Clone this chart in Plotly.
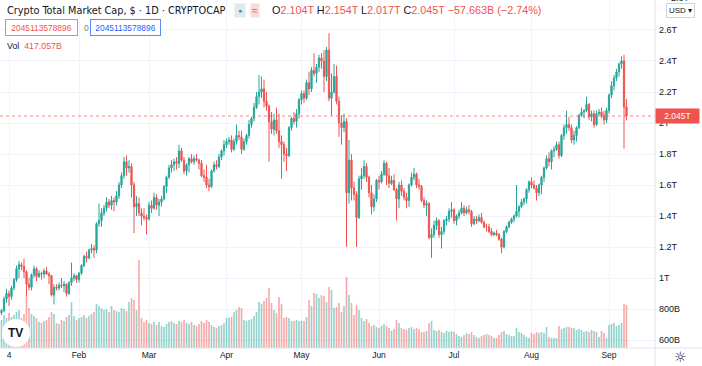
import pandas as pd
import plotly.graph_objects as go

# ---------------- data (daily, 2021-01-01 .. 2021-09-08), values in T USD ----------------
start_date = "2021-01-01"

open_ = [
    0.775, 0.790, 0.865, 0.900, 0.880, 0.935, 0.990, 1.060, 1.085, 1.075, 1.040, 0.960, 0.940, 1.020, 1.060, 1.010, 1.030, 1.025, 1.045, 1.025, 1.015, 0.890, 0.940, 0.935, 0.955, 0.950, 0.960, 0.900, 0.970, 1.000, 1.015,
    0.990, 1.030, 1.080, 1.140, 1.130, 1.180, 1.190, 1.180, 1.350, 1.370, 1.420, 1.450, 1.490, 1.470, 1.500, 1.490, 1.530, 1.600, 1.660, 1.750, 1.710, 1.720, 1.600, 1.460, 1.480, 1.420, 1.400, 1.390,
    1.380, 1.470, 1.450, 1.520, 1.470, 1.490, 1.510, 1.590, 1.650, 1.710, 1.730, 1.750, 1.740, 1.820, 1.760, 1.690, 1.730, 1.770, 1.750, 1.770, 1.760, 1.740, 1.660, 1.650, 1.600, 1.590, 1.690, 1.730, 1.720, 1.780, 1.820,
    1.860, 1.880, 1.890, 1.830, 1.880, 1.920, 1.910, 1.830, 1.880, 1.920, 1.990, 2.030, 2.100, 2.170, 2.200, 2.220, 2.140, 2.110, 2.010, 1.960, 2.020, 1.950, 1.880, 1.860, 1.800, 1.790, 1.970, 2.030, 2.010, 2.060,
    2.150, 2.190, 2.160, 2.260, 2.220, 2.340, 2.320, 2.360, 2.420, 2.400, 2.300, 2.470, 2.160, 2.200, 2.300, 2.140, 2.000, 1.970, 2.010, 1.550, 1.760, 1.580, 1.540, 1.390, 1.640, 1.660, 1.720, 1.650, 1.550, 1.460, 1.510,
    1.630, 1.620, 1.670, 1.740, 1.660, 1.610, 1.630, 1.570, 1.510, 1.600, 1.560, 1.520, 1.500, 1.600, 1.650, 1.670, 1.600, 1.590, 1.500, 1.470, 1.480, 1.260, 1.280, 1.340, 1.370, 1.280, 1.300, 1.370, 1.380, 1.430,
    1.440, 1.370, 1.400, 1.420, 1.450, 1.420, 1.440, 1.430, 1.350, 1.380, 1.370, 1.390, 1.360, 1.330, 1.330, 1.300, 1.280, 1.290, 1.280, 1.250, 1.200, 1.300, 1.330, 1.360, 1.380, 1.400, 1.430, 1.460, 1.490, 1.510, 1.570,
    1.620, 1.600, 1.580, 1.550, 1.600, 1.650, 1.710, 1.770, 1.750, 1.820, 1.830, 1.860, 1.790, 1.920, 1.970, 1.990, 1.970, 1.890, 1.920, 1.970, 2.050, 2.070, 2.080, 2.120, 2.040, 2.060, 1.990, 2.060, 2.070, 2.050, 2.020,
    2.080, 2.180, 2.240, 2.290, 2.330, 2.380, 2.400, 2.104,
]

high = [
    0.800, 0.880, 0.930, 0.920, 0.950, 1.000, 1.080, 1.110, 1.100, 1.125, 1.050, 1.000, 1.030, 1.080, 1.070, 1.050, 1.040, 1.060, 1.070, 1.040, 1.020, 0.960, 0.960, 0.970, 1.000, 0.980, 0.965, 0.980, 1.100, 1.030, 1.020,
    1.040, 1.090, 1.150, 1.170, 1.190, 1.220, 1.210, 1.360, 1.480, 1.450, 1.470, 1.520, 1.510, 1.530, 1.520, 1.560, 1.620, 1.680, 1.780, 1.790, 1.760, 1.740, 1.620, 1.530, 1.520, 1.450, 1.450, 1.410,
    1.490, 1.500, 1.550, 1.540, 1.510, 1.530, 1.600, 1.660, 1.730, 1.760, 1.770, 1.780, 1.860, 1.840, 1.780, 1.740, 1.780, 1.800, 1.790, 1.800, 1.770, 1.760, 1.700, 1.730, 1.640, 1.700, 1.750, 1.760, 1.800, 1.830, 1.890,
    1.900, 1.910, 1.920, 1.900, 1.990, 1.950, 1.950, 1.900, 1.930, 2.020, 2.040, 2.130, 2.200, 2.310, 2.300, 2.280, 2.200, 2.120, 2.070, 2.060, 2.100, 2.060, 1.920, 1.880, 1.840, 1.980, 2.040, 2.070, 2.090, 2.160,
    2.210, 2.210, 2.280, 2.330, 2.360, 2.450, 2.380, 2.440, 2.450, 2.470, 2.490, 2.580, 2.320, 2.380, 2.370, 2.170, 2.050, 2.060, 2.030, 1.890, 1.800, 1.620, 1.560, 1.660, 1.710, 1.760, 1.740, 1.660, 1.600, 1.540, 1.640,
    1.660, 1.690, 1.760, 1.750, 1.710, 1.660, 1.670, 1.580, 1.620, 1.630, 1.580, 1.550, 1.610, 1.680, 1.710, 1.680, 1.640, 1.600, 1.520, 1.500, 1.490, 1.320, 1.370, 1.390, 1.380, 1.330, 1.380, 1.400, 1.450, 1.490,
    1.450, 1.410, 1.440, 1.490, 1.470, 1.460, 1.470, 1.440, 1.400, 1.400, 1.410, 1.420, 1.370, 1.350, 1.350, 1.320, 1.300, 1.310, 1.290, 1.260, 1.310, 1.340, 1.370, 1.390, 1.410, 1.600, 1.470, 1.510, 1.520, 1.580, 1.630,
    1.650, 1.630, 1.600, 1.610, 1.660, 1.720, 1.790, 1.810, 1.830, 1.850, 1.880, 1.880, 1.930, 1.990, 2.080, 2.040, 1.990, 1.950, 1.980, 2.060, 2.100, 2.090, 2.170, 2.130, 2.080, 2.080, 2.080, 2.090, 2.100, 2.080, 2.100,
    2.190, 2.270, 2.310, 2.350, 2.390, 2.430, 2.440, 2.154,
]

low = [
    0.760, 0.780, 0.840, 0.820, 0.860, 0.920, 0.975, 1.000, 1.050, 1.000, 0.880, 0.920, 0.920, 1.000, 0.980, 1.000, 0.990, 1.000, 1.020, 0.960, 0.880, 0.830, 0.920, 0.920, 0.935, 0.910, 0.880, 0.890, 0.950, 0.980, 0.970,
    0.970, 1.020, 1.070, 1.100, 1.120, 1.160, 1.130, 1.160, 1.330, 1.330, 1.400, 1.430, 1.450, 1.440, 1.430, 1.470, 1.510, 1.580, 1.640, 1.660, 1.680, 1.520, 1.290, 1.400, 1.400, 1.340, 1.370, 1.280,
    1.370, 1.420, 1.440, 1.440, 1.400, 1.460, 1.500, 1.550, 1.640, 1.680, 1.690, 1.700, 1.710, 1.750, 1.670, 1.660, 1.680, 1.740, 1.730, 1.750, 1.700, 1.650, 1.620, 1.580, 1.560, 1.580, 1.680, 1.700, 1.710, 1.760, 1.790,
    1.840, 1.860, 1.810, 1.820, 1.860, 1.890, 1.800, 1.820, 1.860, 1.900, 1.970, 2.010, 2.090, 2.120, 2.160, 2.100, 2.080, 1.750, 1.930, 1.920, 1.930, 1.840, 1.640, 1.750, 1.690, 1.780, 1.950, 1.990, 1.970, 2.030,
    2.120, 2.130, 2.150, 2.180, 2.200, 2.300, 2.260, 2.330, 2.350, 2.200, 2.270, 2.140, 2.050, 2.190, 2.120, 1.910, 1.860, 1.940, 1.200, 1.480, 1.500, 1.500, 1.200, 1.380, 1.570, 1.640, 1.620, 1.520, 1.410, 1.430, 1.490,
    1.570, 1.610, 1.660, 1.600, 1.580, 1.600, 1.560, 1.370, 1.450, 1.530, 1.500, 1.450, 1.460, 1.590, 1.630, 1.580, 1.570, 1.490, 1.450, 1.400, 1.250, 1.130, 1.260, 1.310, 1.260, 1.190, 1.280, 1.340, 1.360, 1.390,
    1.350, 1.340, 1.380, 1.410, 1.400, 1.410, 1.410, 1.330, 1.340, 1.350, 1.360, 1.350, 1.320, 1.300, 1.290, 1.270, 1.270, 1.270, 1.240, 1.160, 1.190, 1.290, 1.320, 1.350, 1.360, 1.390, 1.390, 1.450, 1.470, 1.480, 1.550,
    1.580, 1.570, 1.500, 1.530, 1.540, 1.620, 1.700, 1.720, 1.700, 1.780, 1.820, 1.770, 1.780, 1.890, 1.930, 1.950, 1.870, 1.860, 1.880, 1.960, 2.040, 2.030, 2.070, 2.020, 2.010, 1.970, 1.980, 2.040, 2.030, 1.990, 2.000,
    2.060, 2.160, 2.210, 2.270, 2.300, 2.350, 1.835, 2.017,
]

close = [
    0.790, 0.865, 0.900, 0.880, 0.935, 0.990, 1.060, 1.085, 1.075, 1.040, 0.960, 0.940, 1.020, 1.060, 1.010, 1.030, 1.025, 1.045, 1.025, 1.015, 0.890, 0.940, 0.935, 0.955, 0.950, 0.960, 0.900, 0.970, 1.000, 1.015, 0.990,
    1.030, 1.080, 1.140, 1.130, 1.180, 1.190, 1.180, 1.350, 1.370, 1.420, 1.450, 1.490, 1.470, 1.500, 1.490, 1.530, 1.600, 1.660, 1.750, 1.710, 1.720, 1.600, 1.460, 1.480, 1.420, 1.400, 1.390, 1.380,
    1.470, 1.450, 1.520, 1.470, 1.490, 1.510, 1.590, 1.650, 1.710, 1.730, 1.750, 1.740, 1.820, 1.760, 1.690, 1.730, 1.770, 1.750, 1.770, 1.760, 1.740, 1.660, 1.650, 1.600, 1.590, 1.690, 1.730, 1.720, 1.780, 1.820, 1.860,
    1.880, 1.890, 1.830, 1.880, 1.920, 1.910, 1.830, 1.880, 1.920, 1.990, 2.030, 2.100, 2.170, 2.200, 2.220, 2.140, 2.110, 2.010, 1.960, 2.020, 1.950, 1.880, 1.860, 1.800, 1.790, 1.970, 2.030, 2.010, 2.060, 2.150,
    2.190, 2.160, 2.260, 2.220, 2.340, 2.320, 2.360, 2.420, 2.400, 2.300, 2.470, 2.160, 2.200, 2.300, 2.140, 2.000, 1.970, 2.010, 1.550, 1.760, 1.580, 1.540, 1.390, 1.640, 1.660, 1.720, 1.650, 1.550, 1.460, 1.510, 1.630,
    1.620, 1.670, 1.740, 1.660, 1.610, 1.630, 1.570, 1.510, 1.600, 1.560, 1.520, 1.500, 1.600, 1.650, 1.670, 1.600, 1.590, 1.500, 1.470, 1.480, 1.260, 1.280, 1.340, 1.370, 1.280, 1.300, 1.370, 1.380, 1.430, 1.440,
    1.370, 1.400, 1.420, 1.450, 1.420, 1.440, 1.430, 1.350, 1.380, 1.370, 1.390, 1.360, 1.330, 1.330, 1.300, 1.280, 1.290, 1.280, 1.250, 1.200, 1.300, 1.330, 1.360, 1.380, 1.400, 1.430, 1.460, 1.490, 1.510, 1.570, 1.620,
    1.600, 1.580, 1.550, 1.600, 1.650, 1.710, 1.770, 1.750, 1.820, 1.830, 1.860, 1.790, 1.920, 1.970, 1.990, 1.970, 1.890, 1.920, 1.970, 2.050, 2.070, 2.080, 2.120, 2.040, 2.060, 1.990, 2.060, 2.070, 2.050, 2.020, 2.080,
    2.180, 2.240, 2.290, 2.330, 2.380, 2.400, 2.102777, 2.045113578896,
]

# volume in billions USD
volume = [
    272, 320, 291, 340, 301, 320, 349, 369, 291, 330, 504, 388, 330, 310, 291, 252, 243, 262, 272, 301, 349, 330, 243, 233, 272, 262, 301, 320, 446, 310, 272,
    291, 301, 320, 291, 310, 330, 349, 427, 407, 388, 369, 378, 349, 407, 369, 359, 349, 388, 378, 359, 446, 485, 466, 369, 854, 291, 252, 272,
    243, 233, 252, 223, 252, 213, 204, 233, 252, 262, 243, 233, 262, 252, 272, 243, 233, 252, 223, 213, 233, 262, 243, 272, 252, 223, 204, 194, 213, 223, 243,
    291, 291, 301, 349, 369, 398, 388, 272, 262, 272, 281, 310, 349, 446, 427, 456, 485, 582, 437, 369, 340, 495, 427, 291, 301, 291, 262, 262, 272, 262,
    262, 262, 301, 466, 407, 534, 524, 485, 514, 504, 446, 592, 563, 388, 398, 437, 349, 407, 689, 514, 437, 320, 417, 369, 291, 262, 281, 243, 213, 223, 204,
    194, 213, 233, 213, 194, 165, 184, 272, 243, 194, 184, 175, 194, 204, 184, 194, 184, 155, 155, 165, 243, 262, 175, 165, 175, 155, 146, 165, 155, 165,
    155, 136, 116, 107, 126, 146, 136, 155, 126, 107, 97, 116, 126, 136, 126, 116, 97, 97, 126, 155, 165, 136, 126, 116, 116, 194, 155, 146, 126, 107, 97,
    146, 136, 155, 146, 155, 146, 204, 107, 97, 97, 97, 213, 184, 194, 204, 204, 194, 194, 175, 184, 175, 155, 165, 155, 175, 165, 155, 107, 165, 146, 97,
    223, 233, 243, 213, 223, 243, 427, 417.057,
]

month_ticks = ["2021-01-04", "2021-02-01", "2021-03-01", "2021-04-01", "2021-05-01",
               "2021-06-01", "2021-07-01", "2021-08-01", "2021-09-01"]
month_labels = ["4", "Feb", "Mar", "Apr", "May", "Jun", "Jul", "Aug", "Sep"]

price_ticks = [0.6, 0.8, 1.0, 1.2, 1.4, 1.6, 1.8, 2.0, 2.2, 2.4, 2.6, 2.8]
price_labels = ["600B", "800B", "1T", "1.2T", "1.4T", "1.6T", "1.8T", "2T", "2.2T", "2.4T", "2.6T", "2.8T"]

assert len(open_) == len(high) == len(low) == len(close) == len(volume)

# ---------------- styling ----------------
W, H = 702, 366
MR, MB = 47, 18
PW, PH = W - MR, H - MB
UP, DOWN = "#26a69a", "#ef5350"
TXT = "#131722"
GRID = "#f0f3fa"
NARROW = "Liberation Sans Narrow, DejaVu Sans Condensed, Liberation Sans, sans-serif"
REG = "Liberation Sans, Arial, sans-serif"


def px(x):
    return x / PW


def py(y):
    return 1 - y / PH


dates = pd.date_range(start_date, periods=len(close), freq="D")
vol_colors = ["rgba(38,166,154,0.5)" if c >= o else "rgba(239,83,80,0.5)" for o, c in zip(open_, close)]

fig = go.Figure()
fig.add_trace(go.Candlestick(
    x=dates, open=open_, high=high, low=low, close=close, yaxis="y",
    increasing=dict(line=dict(color=UP, width=1), fillcolor=UP),
    decreasing=dict(line=dict(color=DOWN, width=1), fillcolor=DOWN),
    whiskerwidth=0, hoverinfo="skip",
))
fig.add_trace(go.Bar(
    x=dates, y=volume, yaxis="y2", marker=dict(color=vol_colors, line=dict(width=0)),
    hoverinfo="skip",
))

last_o, last_h, last_l, last_c = open_[-1], high[-1], low[-1], close[-1]
chg = (last_c - close[-2]) * 1000
pct = (last_c - close[-2]) / close[-2] * 100

anns = []


def ann(x, y, text, size, color, family=REG, xanchor="left", **kw):
    d = dict(x=px(x), y=py(y), xref="paper", yref="paper", text=text, showarrow=False,
             xanchor=xanchor, yanchor="middle", font=dict(size=size, color=color, family=family))
    d.update(kw)
    anns.append(d)


# header
ann(5, 10, "Crypto Total Market Cap, $ · 1D · CRYPTOCAP", 10.8, TXT, NARROW)
ann(240, 10, "●", 7, UP, REG, xanchor="center", bgcolor="#e3e8ec", borderpad=3)
ann(255, 10, "≈", 10, DOWN, REG, xanchor="center", bgcolor="#fbdada", borderpad=1)
R = DOWN
ohlc = (f"<span style='color:{TXT}'>O</span><span style='color:{R}'>{last_o:.3f}T</span> "
        f"<span style='color:{TXT}'>H</span><span style='color:{R}'>{last_h:.3f}T</span> "
        f"<span style='color:{TXT}'>L</span><span style='color:{R}'>{last_l:.3f}T</span> "
        f"<span style='color:{TXT}'>C</span><span style='color:{R}'>{last_c:.3f}T</span> "
        f"<span style='color:{R}'>−{abs(chg):.3f}B (−{abs(pct):.2f}%)</span>")
ann(270, 10, ohlc, 10.8, R, REG)
ann(41.5, 27.5, f"{last_c * 1e12:.0f}", 8.4, DOWN, REG, xanchor="center",
    bordercolor="rgba(239,83,80,0.75)", borderwidth=1, borderpad=1, bgcolor="white", width=69, height=13)
ann(82, 27.5, "0", 8.4, "#787b86", REG)
ann(125, 27.5, f"{last_c * 1e12:.0f}", 8.4, "#2962ff", REG, xanchor="center",
    bordercolor="rgba(41,98,255,0.75)", borderwidth=1, borderpad=1, bgcolor="white", width=67, height=13)
ann(5, 46, f"Vol  <span style='color:{DOWN}'>{volume[-1]:.3f}B</span>", 8.8, TXT, REG)

# TV logo
ann(15.5, 333, "<b>TV</b>", 12, TXT, REG, xanchor="center")

# right scale extras
anns.append(dict(x=1, y=last_c, xref="paper", yref="y", text=f"{last_c:.3f}T", showarrow=False,
                 xanchor="left", yanchor="middle", bgcolor=DOWN, width=41, height=12, borderpad=1,
                 align="center", font=dict(size=8.5, color="white", family=REG)))
anns.append(dict(x=px(680), y=py(-2), xref="paper", yref="paper", text="2.8T", showarrow=False,
                 xanchor="center", yanchor="middle", font=dict(size=9, color=TXT, family=REG)))
anns.append(dict(x=px(680), y=py(10.5), xref="paper", yref="paper", text="USD ▾", showarrow=False,
                 xanchor="center", yanchor="middle", bordercolor="#d1d4dc", borderwidth=1, borderpad=2,
                 bgcolor="white", font=dict(size=8, color=TXT, family=REG)))
anns.append(dict(x=px(680), y=py(357), xref="paper", yref="paper", text="☼", showarrow=False,
                 xanchor="center", yanchor="middle", font=dict(size=14, color=TXT, family="DejaVu Sans")))

shapes = [
    # TV logo circle
    dict(type="circle", xref="paper", yref="paper", x0=px(2), x1=px(30), y0=py(347), y1=py(319),
         fillcolor="white", line=dict(width=0), layer="above"),
    # price line
    dict(type="line", xref="paper", yref="y", x0=0, x1=1, y0=last_c, y1=last_c,
         line=dict(color="rgba(239,83,80,0.7)", width=1, dash="dot")),
    # pane borders
    dict(type="line", xref="paper", yref="paper", x0=0, x1=W / PW, y0=0, y1=0,
         line=dict(color="#e0e3eb", width=1)),
    dict(type="line", xref="paper", yref="paper", x0=1, x1=1, y0=-MB / PH, y1=1,
         line=dict(color="#e0e3eb", width=1)),
]

fig.update_layout(
    width=W, height=H,
    margin=dict(l=0, r=MR, t=0, b=MB, autoexpand=False),
    paper_bgcolor="white", plot_bgcolor="white",
    showlegend=False, hovermode=False, bargap=0.35,
    xaxis=dict(type="date", range=["2020-12-31 09:36", "2021-09-19 09:36"], automargin=False,
               tickvals=month_ticks, ticktext=month_labels, showgrid=True, gridcolor=GRID,
               zeroline=False, showline=False, ticks="", rangeslider=dict(visible=False),
               tickfont=dict(size=8.5, color=TXT, family=REG)),
    yaxis=dict(side="right", range=[0.5484, 2.7935], tickvals=price_ticks, ticktext=price_labels,
               automargin=False, showgrid=True, gridcolor=GRID, zeroline=False, showline=False,
               ticks="", ticklabelstandoff=3, tickfont=dict(size=9, color=TXT, family=REG)),
    yaxis2=dict(overlaying="y", range=[0, 3380], visible=False, showgrid=False),
    annotations=anns, shapes=shapes,
)

fig.write_html(
    "out.html",
    config={"displayModeBar": False},
    post_script="document.body.style.margin='0';document.body.style.padding='0';",
)
